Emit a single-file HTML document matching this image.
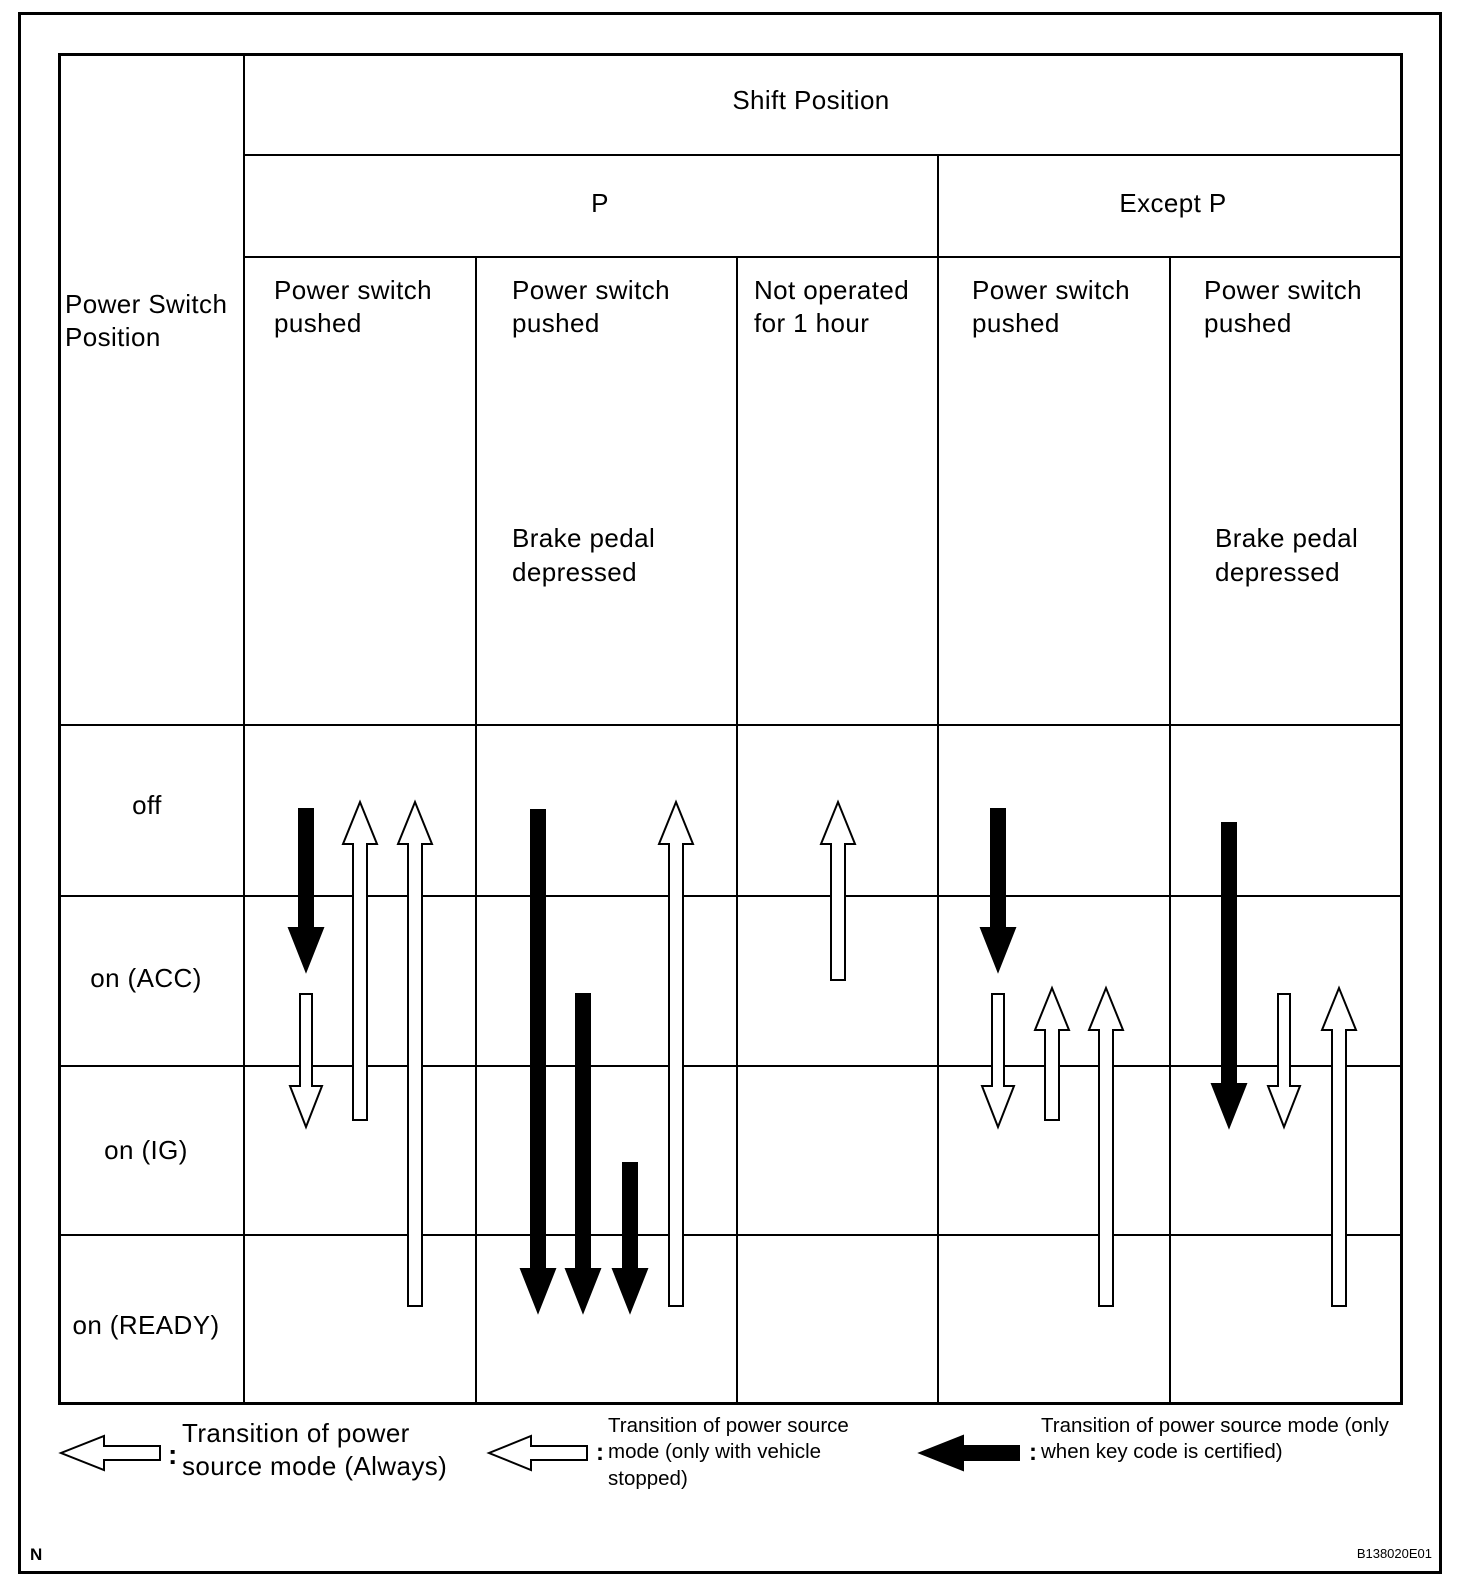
<!DOCTYPE html>
<html><head><style>
html,body{margin:0;padding:0;background:#fff;}
svg{display:block;}
text{font-family:"Liberation Sans",Arial,sans-serif;fill:#000;}
</style></head><body>
<svg width="1472" height="1588" xmlns="http://www.w3.org/2000/svg">
<rect x="19.5" y="13.5" width="1421" height="1559" fill="none" stroke="#000" stroke-width="3"/>
<g stroke="#000" stroke-width="2">
<line x1="244" y1="53" x2="244" y2="1405"/>
<line x1="244" y1="155" x2="1403" y2="155"/>
<line x1="244" y1="257" x2="1403" y2="257"/>
<line x1="938" y1="155" x2="938" y2="1405"/>
<line x1="476" y1="257" x2="476" y2="1405"/>
<line x1="737" y1="257" x2="737" y2="1405"/>
<line x1="1170" y1="257" x2="1170" y2="1405"/>
<line x1="58" y1="725" x2="1403" y2="725"/>
<line x1="58" y1="896" x2="1403" y2="896"/>
<line x1="58" y1="1066" x2="1403" y2="1066"/>
<line x1="58" y1="1235" x2="1403" y2="1235"/>
</g>
<rect x="59.5" y="54.5" width="1342" height="1349" fill="none" stroke="#000" stroke-width="3"/>
<g font-size="26" letter-spacing="0.4">
<text x="811" y="109" text-anchor="middle">Shift Position</text>
<text x="600" y="212" text-anchor="middle">P</text>
<text x="1173" y="212" text-anchor="middle">Except P</text>
<text x="65" y="313">Power Switch</text><text x="65" y="346">Position</text>
<text x="274" y="299">Power switch</text><text x="274" y="332">pushed</text>
<text x="512" y="299">Power switch</text><text x="512" y="332">pushed</text>
<text x="754" y="299">Not operated</text><text x="754" y="332">for 1 hour</text>
<text x="972" y="299">Power switch</text><text x="972" y="332">pushed</text>
<text x="1204" y="299">Power switch</text><text x="1204" y="332">pushed</text>
<text x="512" y="547">Brake pedal</text><text x="512" y="581">depressed</text>
<text x="1215" y="547">Brake pedal</text><text x="1215" y="581">depressed</text>
<text x="147" y="814" text-anchor="middle">off</text>
<text x="146" y="987" text-anchor="middle">on (ACC)</text>
<text x="146" y="1159" text-anchor="middle">on (IG)</text>
<text x="146" y="1334" text-anchor="middle">on (READY)</text>
</g>
<g stroke="#000" stroke-width="2">
<path fill="#000" d="M299,809 H313 V928 H323 L306,971 L289,928 H299 Z"/>
<path fill="#000" d="M531,810 H545 V1269 H555 L538,1312 L521,1269 H531 Z"/>
<path fill="#000" d="M576,994 H590 V1269 H600 L583,1312 L566,1269 H576 Z"/>
<path fill="#000" d="M623,1163 H637 V1269 H647 L630,1312 L613,1269 H623 Z"/>
<path fill="#000" d="M991,809 H1005 V928 H1015 L998,971 L981,928 H991 Z"/>
<path fill="#000" d="M1222,823 H1236 V1084 H1246 L1229,1127 L1212,1084 H1222 Z"/>
<path fill="#fff" d="M300,994 H312 V1086 H322 L306,1127 L290,1086 H300 Z"/>
<path fill="#fff" d="M992,994 H1004 V1086 H1014 L998,1127 L982,1086 H992 Z"/>
<path fill="#fff" d="M1278,994 H1290 V1086 H1300 L1284,1127 L1268,1086 H1278 Z"/>
<path fill="#fff" d="M353,1120 H367 V844 H377 L360,802 L343,844 H353 Z"/>
<path fill="#fff" d="M408,1306 H422 V844 H432 L415,802 L398,844 H408 Z"/>
<path fill="#fff" d="M669,1306 H683 V844 H693 L676,802 L659,844 H669 Z"/>
<path fill="#fff" d="M831,980 H845 V844 H855 L838,802 L821,844 H831 Z"/>
<path fill="#fff" d="M1045,1120 H1059 V1030 H1069 L1052,988 L1035,1030 H1045 Z"/>
<path fill="#fff" d="M1099,1306 H1113 V1030 H1123 L1106,988 L1089,1030 H1099 Z"/>
<path fill="#fff" d="M1332,1306 H1346 V1030 H1356 L1339,988 L1322,1030 H1332 Z"/>
<path fill="#fff" d="M160,1446 V1460 H104 V1470 L61,1453 L104,1436 V1446 Z"/>
<path fill="#fff" d="M587,1446 V1460 H531 V1470 L489,1453 L531,1436 V1446 Z"/>
<path fill="#000" d="M1019,1446 V1460 H963 V1470 L920,1453 L963,1436 V1446 Z"/>
</g>
<g>
<text x="168" y="1464" font-size="28" font-weight="bold">:</text>
<text x="182" y="1442" font-size="26" letter-spacing="0.4">Transition of power</text>
<text x="182" y="1475" font-size="26" letter-spacing="0.4">source mode (Always)</text>
<text x="596" y="1460" font-size="24" font-weight="bold">:</text>
<text x="608" y="1432" font-size="20.5">Transition of power source</text>
<text x="608" y="1458" font-size="20.5">mode (only with vehicle</text>
<text x="608" y="1485" font-size="20.5">stopped)</text>
<text x="1029" y="1460" font-size="24" font-weight="bold">:</text>
<text x="1041" y="1432" font-size="20.5">Transition of power source mode (only</text>
<text x="1041" y="1458" font-size="20.5">when key code is certified)</text>
<text x="30" y="1560" font-size="17" font-weight="bold">N</text>
<text x="1432" y="1558" font-size="13" text-anchor="end">B138020E01</text>
</g>
</svg>
</body></html>
